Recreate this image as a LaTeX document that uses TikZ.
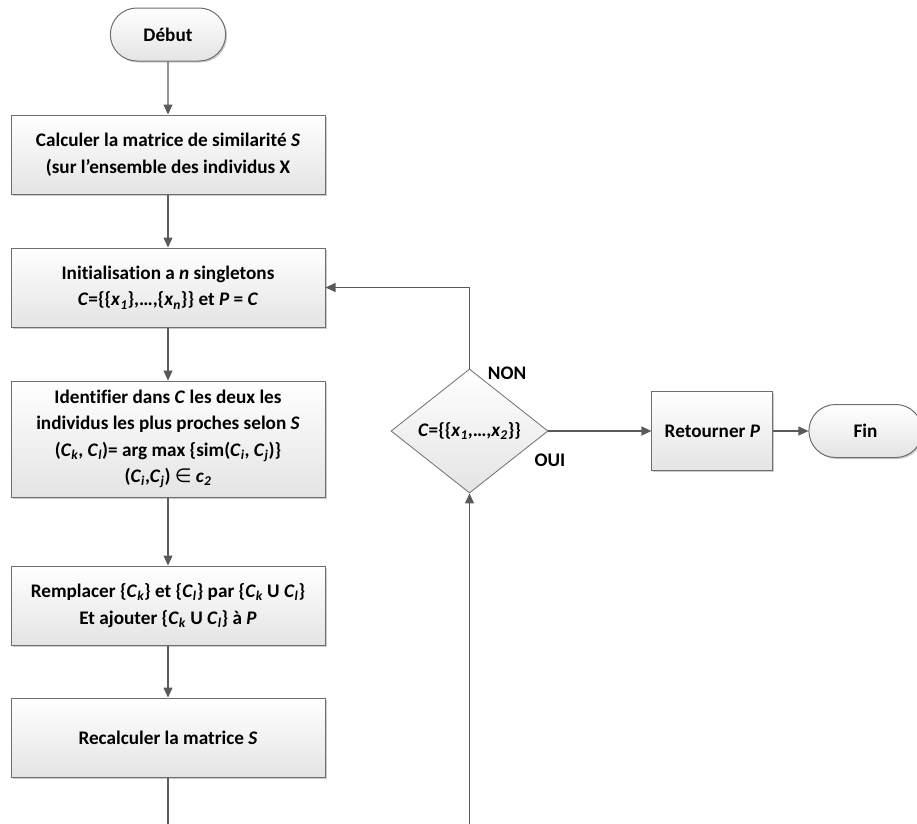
\documentclass[tikz,border=0pt]{standalone}
\usepackage{fontspec}
\setmainfont{Carlito}[Ligatures=NoCommon]
\newfontfamily\symbfont{DejaVu Sans}
\usetikzlibrary{positioning, arrows.meta, shapes.geometric, shapes.misc, shadows}
\definecolor{boxline}{HTML}{6E6E6E}
\definecolor{boxfill}{HTML}{E4E4E4}
\definecolor{arrowline}{HTML}{5A5A5A}
\newcommand{\Ital}[1]{\textit{#1}}
\newcommand{\Sub}[1]{\textsubscript{\itshape #1}}
\tikzset{
    boxshadow/.style={drop shadow={shadow xshift=1.5pt, shadow yshift=-1.5pt, fill=black, opacity=0.2}},
    block/.style={rectangle, draw=boxline, line width=1pt, top color=white, bottom color=boxfill,
        minimum width=314pt, minimum height=79pt, align=center, inner sep=2pt, boxshadow},
    term/.style={rounded rectangle, draw=boxline, line width=1pt, top color=white, bottom color=boxfill,
        minimum width=122pt, minimum height=53pt, boxshadow},
    decision/.style={diamond, draw=boxline, line width=0.8pt, top color=white, bottom color=boxfill,
        minimum width=157pt, minimum height=78pt, inner sep=1pt},
    flow/.style={-{Triangle[length=10pt, width=9pt]}, draw=arrowline, line width=1.2pt},
}
\begin{document}
\begin{tikzpicture}[x=1pt, y=1pt, node distance=53pt, font=\fontsize{19.2}{26.5}\selectfont\bfseries]
    \clip (0,0) rectangle (917,-823);

    \node[term] (debut) at (168,-34.5) {Début};
    \node[block, below=of debut] (calc) {Calculer la matrice de similarité \Ital{S}\\(sur l’ensemble des individus X};
    \node[block, below=of calc] (init) {Initialisation a \Ital{n} singletons\\\Ital{C}=\{\{\Ital{x}\Sub{1}\},…,\{\Ital{x}\Sub{n}\}\} et \Ital{P} = \Ital{C}};
    \node[block, below=of init, minimum height=116pt] (ident) {Identifier dans \Ital{C} les deux les\\individus les plus proches selon \Ital{S}\\(\Ital{C}\Sub{k}, \Ital{C}\Sub{l})= arg max \{sim(\Ital{C}\Sub{i}, \Ital{C}\Sub{j})\}\\(\Ital{C}\Sub{i},\Ital{C}\Sub{j}) {\symbfont\mdseries ∈} \Ital{c}\Sub{2}};
    \node[block, below=68pt of ident] (rempl) {Remplacer \{\Ital{C}\Sub{k}\} et \{\Ital{C}\Sub{l}\} par \{\Ital{C}\Sub{k} U \Ital{C}\Sub{l}\}\\Et ajouter \{\Ital{C}\Sub{k} U \Ital{C}\Sub{l}\} à \Ital{P}};
    \node[block, below=52pt of rempl] (recalc) {Recalculer la matrice \Ital{S}};

    \node[decision] (test) at (469.5,-431) {\Ital{C}=\{\{\Ital{x}\Sub{1},…,\Ital{x}\Sub{2}\}\}};
    \node[block, right=103pt of test, minimum width=121pt] (ret) {Retourner \Ital{P}};
    \node[term, right=35pt of ret, minimum width=120pt] (fin) {Fin};

    \node (non) at (507,-373) {NON};
    \node (oui) at (550,-460) {OUI};

    \coordinate (loopleft) at (168,-850);
    \coordinate (loopright) at (469.5,-850);

    \draw[flow] (debut) -- (calc);
    \draw[flow] (calc) -- (init);
    \draw[flow] (init) -- (ident);
    \draw[flow] (ident) -- (rempl);
    \draw[flow] (rempl) -- (recalc);
    \draw[flow] (recalc) -- (loopleft) -- (loopright) -- (test);
    \draw[flow] (test) |- (init);
    \draw[flow] (test) -- (ret);
    \draw[flow] (ret) -- (fin);
\end{tikzpicture}
\end{document}
